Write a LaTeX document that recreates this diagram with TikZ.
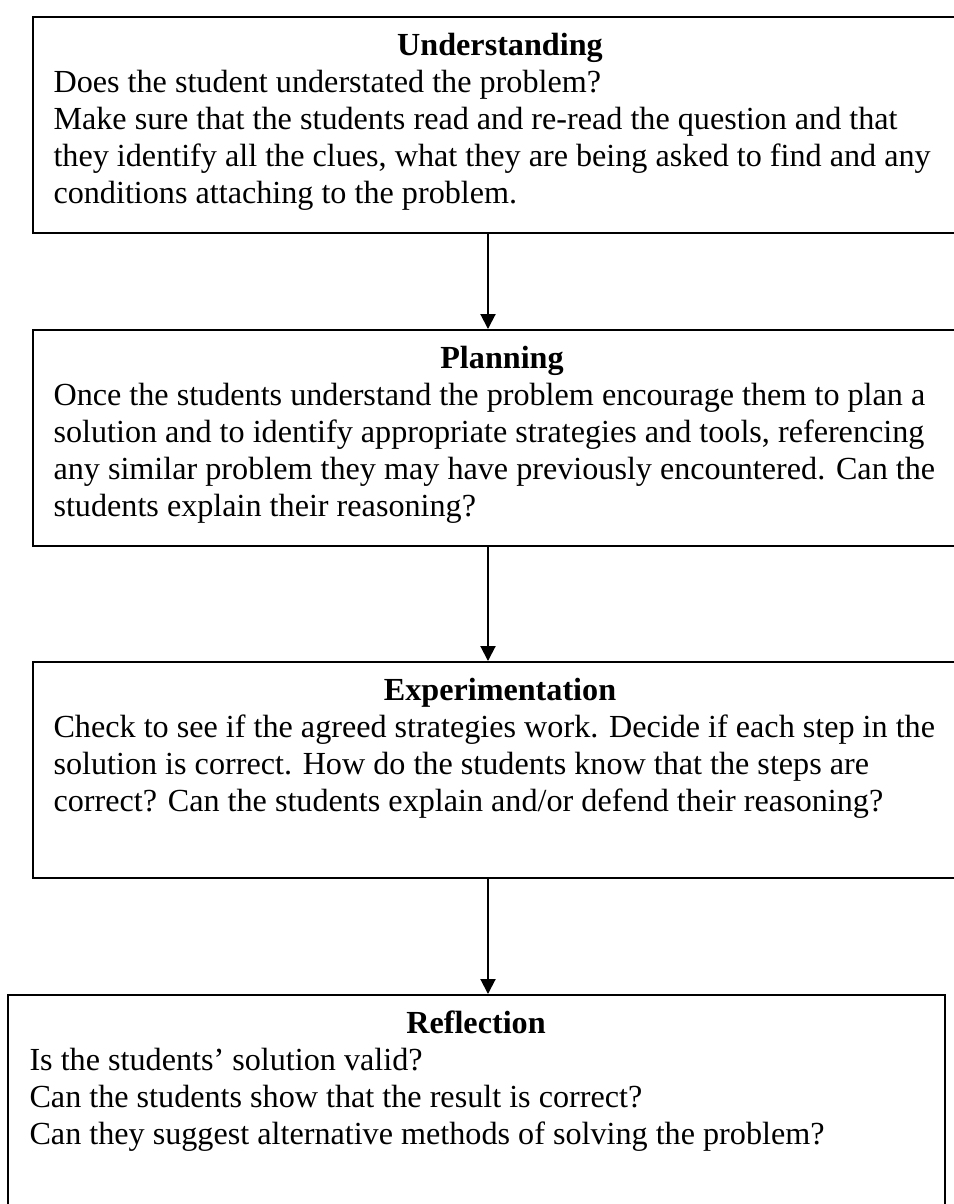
\documentclass[tikz,border=0pt]{standalone}
\usepackage{fontspec}
\setmainfont{Liberation Serif}
\usepackage{tikz}
\usetikzlibrary{arrows.meta}
\tikzstyle{stagebox} = [draw, line width=0.75pt, rectangle, anchor=north west, inner sep=0pt, minimum width=349.6pt, minimum height=80.6pt]
\tikzstyle{stagetitle} = [anchor=base, inner sep=0pt, font=\fontsize{12}{13.8}\selectfont\bfseries]
% base of a multi-line node = baseline of its last line
\tikzstyle{stagetext} = [anchor=base west, inner sep=0pt, align=left, font=\fontsize{12}{13.8}\selectfont]
\tikzstyle{flowarrow} = [line width=0.75pt, -{Triangle[width=5.6pt,length=5.6pt]}]

\begin{document}
\begin{tikzpicture}[x=0.3731pt,y=-0.3731pt]
  \def\ax{488}
  \useasboundingbox (0,0) rectangle (954,1204);
  \clip (0,0) rectangle (954,1204);
  % the four stages
  \node[stagebox] (under) at (32,16) {};
  \node[stagebox] (plan) at (32,329) {};
  \node[stagebox] (exper) at (32,661) {};
  \node[stagebox] (refl) at (7,994) {};
  \node[stagetitle] (undertitle) at (500,55) {Understanding};
  \node[stagetext] (undertext) at (53,203) {Does the student understated the problem?\\
    Make sure that the students read and re-read the question and that\\
    they identify all the clues, what they are being asked to find and any\\
    conditions attaching to the problem.};
  \node[stagetitle] (plantitle) at (502,368) {Planning};
  \node[stagetext] (plantext) at (53,516) {Once the students understand the problem encourage them to plan a\\
    solution and to identify appropriate strategies and tools, referencing\\
    any similar problem they may have previously encountered. Can the\\
    students explain their reasoning?};
  \node[stagetitle] (expertitle) at (500,700) {Experimentation};
  \node[stagetext] (expertext) at (53,811) {Check to see if the agreed strategies work. Decide if each step in the\\
    solution is correct. How do the students know that the steps are\\
    correct? Can the students explain and/or defend their reasoning?};
  \node[stagetitle] (refltitle) at (476,1033) {Reflection};
  \node[stagetext] (refltext) at (29,1144) {Is the students’ solution valid?\\
    Can the students show that the result is correct?\\
    Can they suggest alternative methods of solving the problem?};
  % arrows between stages
  \coordinate (axis) at (\ax,0);
  \draw[flowarrow] (under.south -| axis) -- (plan.north -| axis);
  \draw[flowarrow] (plan.south -| axis) -- (exper.north -| axis);
  \draw[flowarrow] (exper.south -| axis) -- (refl.north -| axis);
\end{tikzpicture}
\end{document}
